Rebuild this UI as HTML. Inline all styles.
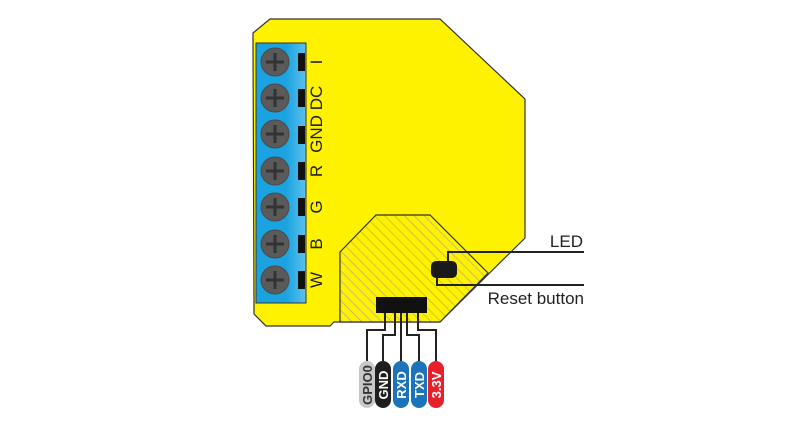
<!DOCTYPE html>
<html><head><meta charset="utf-8"><style>html,body{margin:0;padding:0;background:#fff;width:800px;height:424px;overflow:hidden}</style></head>
<body>
<svg width="800" height="424" viewBox="0 0 800 424" xmlns="http://www.w3.org/2000/svg">
<defs>
<pattern id="h" patternUnits="userSpaceOnUse" width="7" height="7" patternTransform="rotate(-45)">
<rect width="7" height="7" fill="#fff200"/>
<line x1="0" y1="0" x2="0" y2="7" stroke="#aaa78a" stroke-width="1.3"/>
</pattern>
<linearGradient id="bl" x1="0" x2="1"><stop offset="0.6" stop-color="#1aa3e0"/><stop offset="1" stop-color="#5cc0ee"/></linearGradient>
</defs>
<polygon points="253,33 270,19 440,19 525,99 525,238 440,322 334,322 330,326 266,326 254,314 254,303 253,43" fill="#fff200" stroke="#333" stroke-width="1.2"/>
<polygon points="340,252 376,215 430,215 488,273 440,322 340,322" fill="url(#h)" stroke="#333" stroke-width="1.2"/>
<rect x="256" y="43" width="50" height="260" fill="url(#bl)" stroke="#333" stroke-width="1"/>
<g fill="#5a5a5a" stroke="#4a4a4a">
<circle cx="275" cy="62" r="14"/><circle cx="275" cy="98" r="14"/><circle cx="275" cy="134" r="14"/><circle cx="275" cy="171" r="14"/><circle cx="275" cy="207" r="14"/><circle cx="275" cy="244" r="14"/><circle cx="275" cy="280" r="14"/>
</g>
<g stroke="#333" stroke-width="3">
<path d="M266 62h18M275 53v18M266 98h18M275 89v18M266 134h18M275 125v18M266 171h18M275 162v18M266 207h18M275 198v18M266 244h18M275 235v18M266 280h18M275 271v18"/>
</g>
<g fill="#111">
<rect x="298" y="53" width="7" height="18"/><rect x="298" y="89" width="7" height="18"/><rect x="298" y="126" width="7" height="18"/><rect x="298" y="162" width="7" height="18"/><rect x="298" y="198" width="7" height="18"/><rect x="298" y="235" width="7" height="18"/><rect x="298" y="271" width="7" height="18"/>
</g>
<g font-family="Liberation Sans, sans-serif" font-size="17" fill="#222" text-anchor="middle">
<text transform="translate(322,62) rotate(-90)">I</text>
<text transform="translate(322,98) rotate(-90)">DC</text>
<text transform="translate(322,134) rotate(-90)">GND</text>
<text transform="translate(322,171) rotate(-90)">R</text>
<text transform="translate(322,207) rotate(-90)">G</text>
<text transform="translate(322,244) rotate(-90)">B</text>
<text transform="translate(322,280) rotate(-90)">W</text>
</g>
<g fill="none" stroke="#222" stroke-width="2">
<path d="M448 262V252H584"/>
<path d="M437 277V285H584"/>
<path d="M367 361V330H385V312"/>
<path d="M383 361V335H395V312"/>
<path d="M401 361V312"/>
<path d="M419 361V335H407V312"/>
<path d="M436 361V330H418V312"/>
</g>
<rect x="431" y="261" width="26" height="17" rx="5" fill="#1a1a1a"/>
<rect x="376" y="297" width="51" height="16" fill="#111"/>
<g font-family="Liberation Sans, sans-serif" font-size="17" fill="#222" text-anchor="end">
<text x="583" y="247">LED</text>
<text x="584" y="304">Reset button</text>
</g>
<rect x="359" y="361" width="16" height="47" rx="8" fill="#c8c8c8"/>
<rect x="375" y="361" width="16" height="47" rx="8" fill="#1e1e1e"/>
<rect x="393" y="361" width="16" height="47" rx="8" fill="#1b74bb"/>
<rect x="411" y="361" width="16" height="47" rx="8" fill="#1b74bb"/>
<rect x="428" y="361" width="16" height="47" rx="8" fill="#e8202a"/>
<g font-family="Liberation Sans, sans-serif" font-size="13" font-weight="bold" text-anchor="middle">
<text transform="translate(372,385) rotate(-90)" fill="#333">GPIO0</text>
<text transform="translate(388,385) rotate(-90)" fill="#fff">GND</text>
<text transform="translate(406,385) rotate(-90)" fill="#fff">RXD</text>
<text transform="translate(424,385) rotate(-90)" fill="#fff">TXD</text>
<text transform="translate(441,385) rotate(-90)" fill="#fff">3.3V</text>
</g>
</svg>
</body></html>
